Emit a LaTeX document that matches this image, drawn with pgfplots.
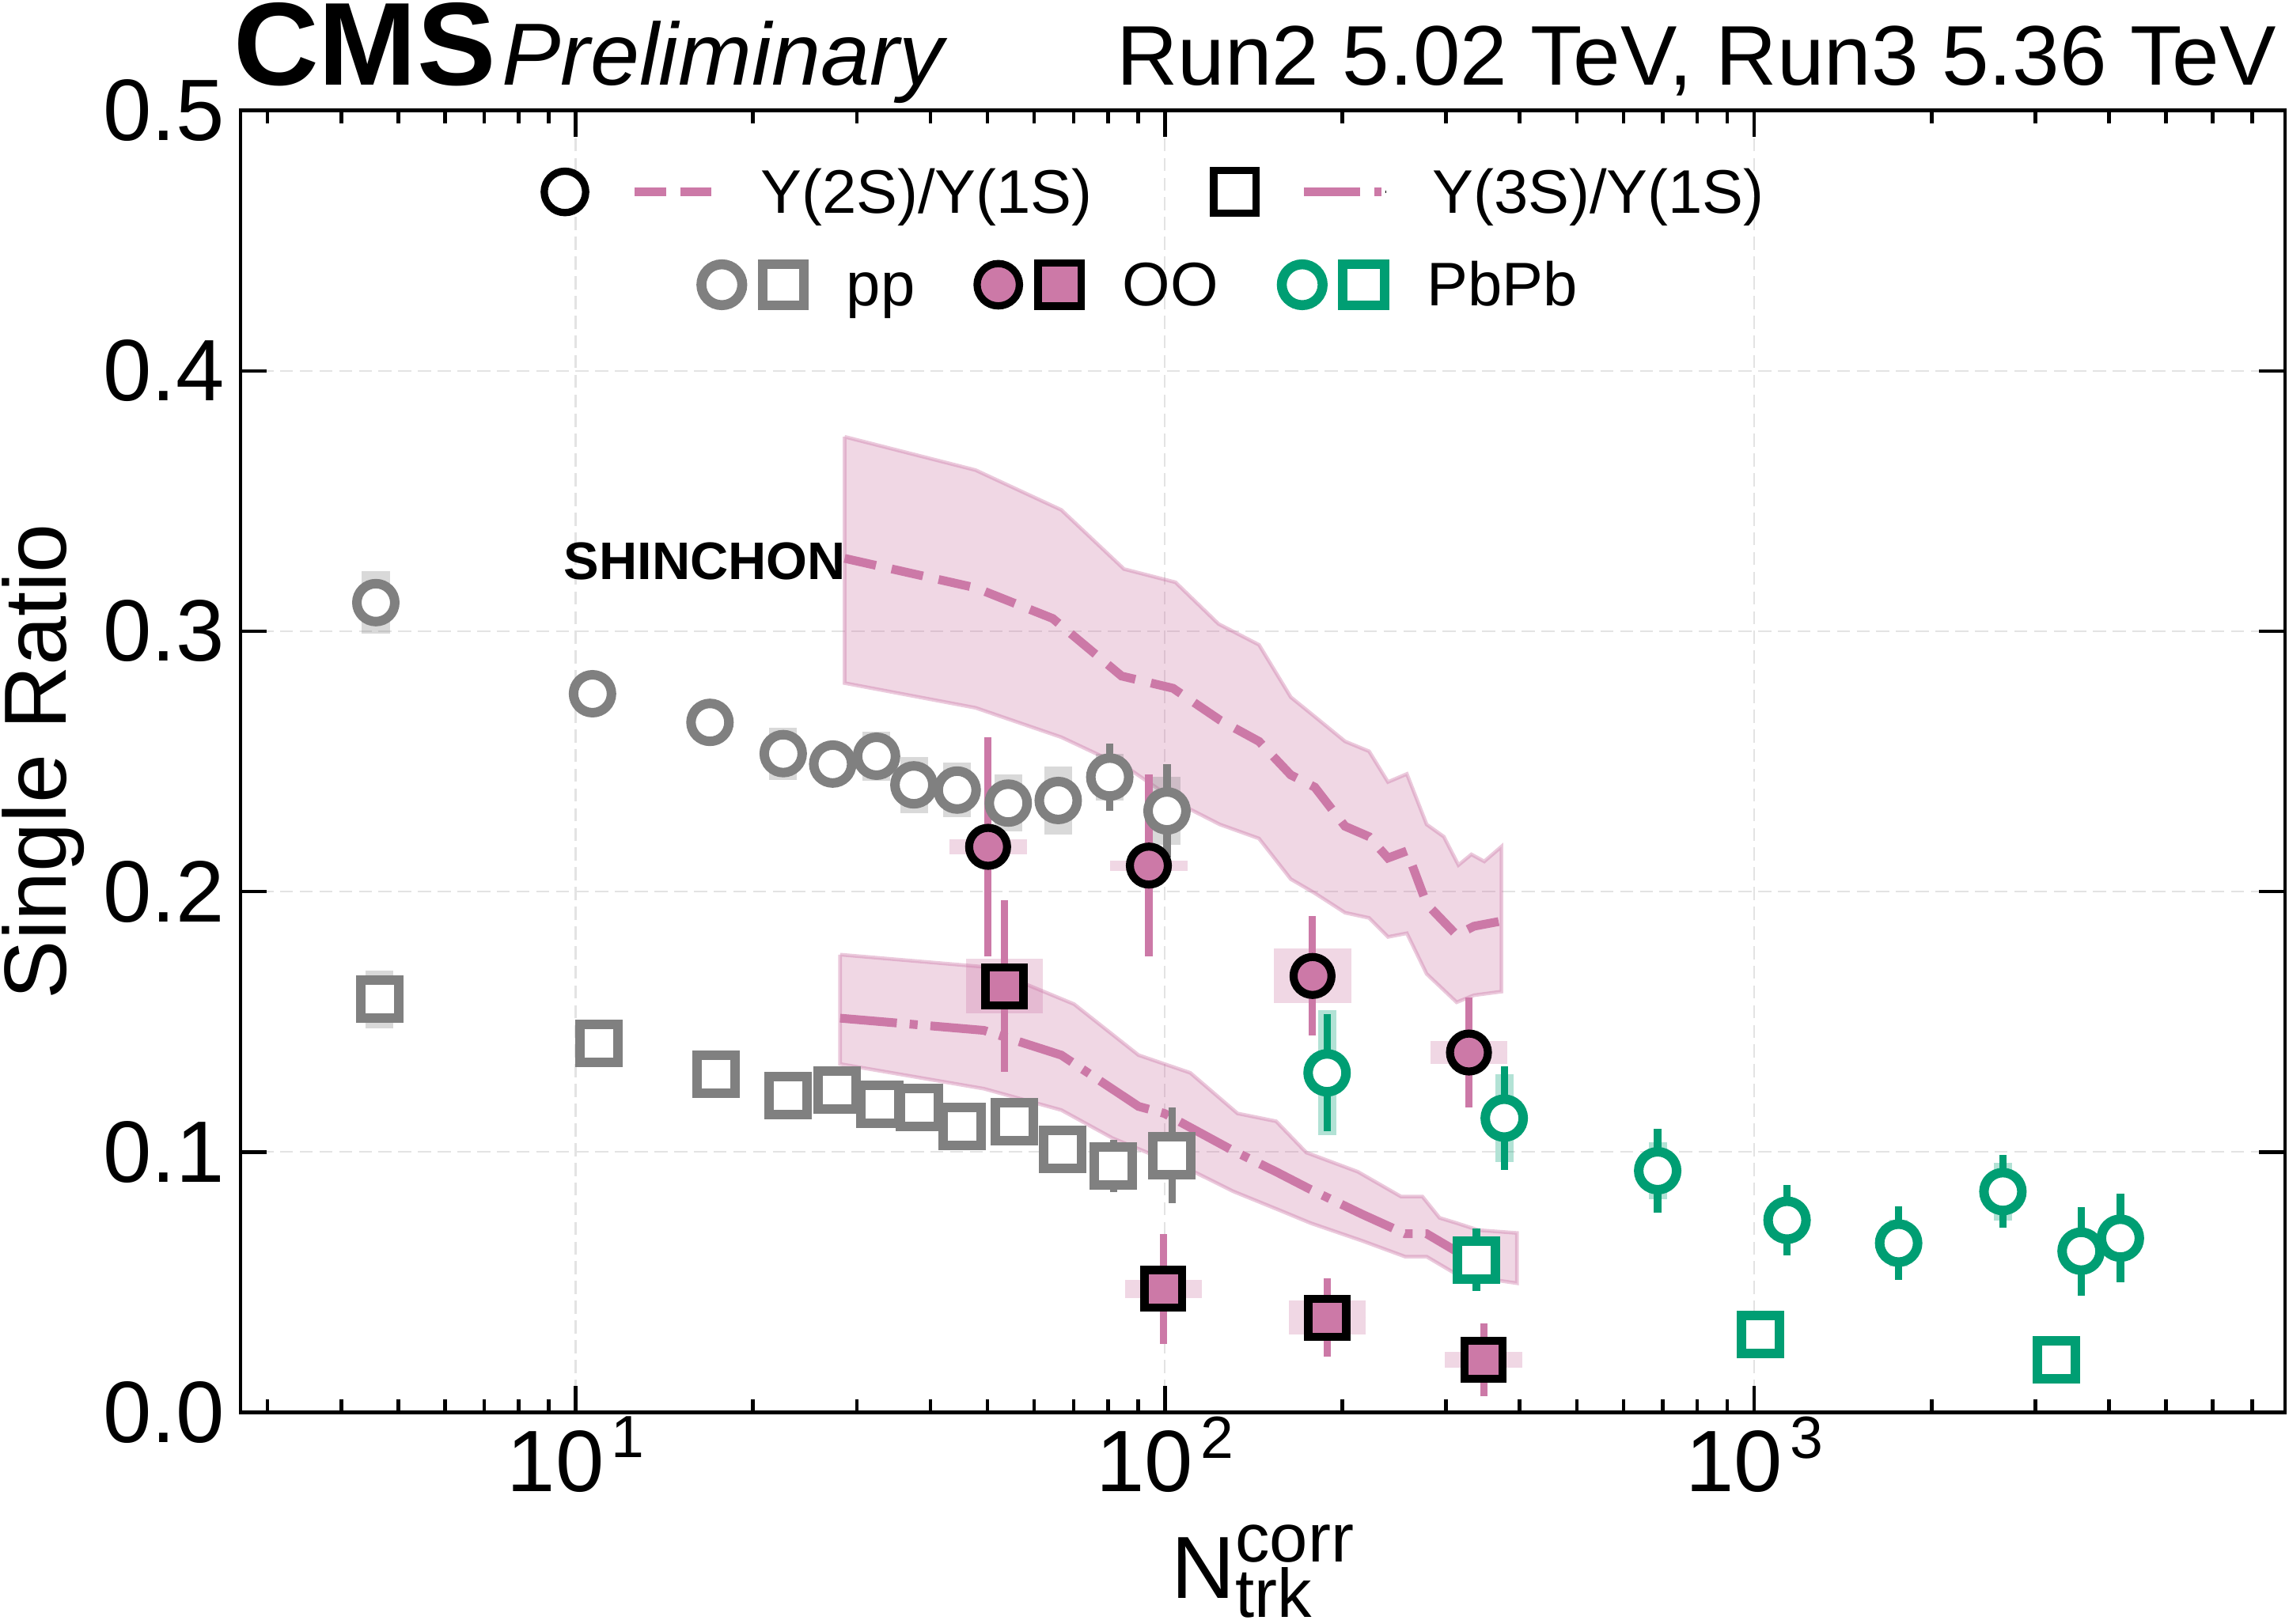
\documentclass[border=0pt]{standalone}
\usepackage{pgfplots}
\pgfplotsset{compat=1.18}
\usepackage{fontspec}
\setmainfont{Liberation Sans}
\definecolor{cmspink}{HTML}{CC79A7}
\definecolor{cmsgreen}{HTML}{009E73}
\definecolor{cmsgray}{HTML}{808080}
\definecolor{gridgray}{HTML}{E3E3E3}

\pgfplotsset{
  overlayaxis/.style={scale only axis, width=140.05mm, height=89.2mm, hide axis,
     xmin=0, xmax=1, ymin=0, ymax=1, legend cell align=left},
  sysbox/.style 2 args={only marks, mark=none, forget plot,
     error bars/.cd, y dir=both, y explicit, error mark=none,
     error bar style={solid, draw=#1, draw opacity=0.3, line width=#2}},
  openmark/.style 2 args={forget plot, only marks, mark=#2, mark size=1.3mm,
     mark options={solid, draw=#1, fill=white, line width=0.65mm},
     error bars/.cd, y dir=both, y explicit, error mark=none,
     error bar style={solid, draw=#1, line width=0.5mm}},
  oomark/.style={forget plot, only marks, mark=#1, mark size=1.3mm,
     mark options={solid, draw=black, fill=cmspink, line width=0.55mm},
     error bars/.cd, y dir=both, y explicit, error mark=none,
     error bar style={solid, draw=cmspink, line width=0.5mm}},
}

\begin{document}
\begin{tikzpicture}
\begin{axis}[
  scale only axis, width=140.05mm, height=89.2mm,
  xmode=log, xmin=2.7, xmax=7960, ymin=0, ymax=0.5,
  xtick={10,100,1000},
  xticklabels={10\kern0.5mm\raisebox{2.3mm}{\fontsize{11.6}{12}\selectfont 1},
               10\kern0.5mm\raisebox{2.3mm}{\fontsize{11.6}{12}\selectfont 2},
               10\kern0.5mm\raisebox{2.3mm}{\fontsize{11.6}{12}\selectfont 3}},
  minor xtick={3,4,5,6,7,8,9,20,30,40,50,60,70,80,90,200,300,400,500,600,700,800,900,2000,3000,4000,5000,6000,7000},
  ytick={0,0.1,0.2,0.3,0.4,0.5},
  yticklabels={0.0,0.1,0.2,0.3,0.4,0.5},
  tick align=inside, tick pos=both,
  major tick length=1.8mm, minor tick length=0.9mm,
  tick style={black, line width=0.25mm},
  axis line style={line width=0.25mm},
  tick label style={font=\fontsize{17}{20}\selectfont},
  xticklabel style={anchor=north, inner sep=0pt, yshift=-0.23mm},
  yticklabel style={anchor=east, inner sep=0pt, xshift=-1.05mm},
  xmajorgrids, ymajorgrids,
  major grid style={gridgray, line width=0.12mm, dash pattern=on 0.9mm off 0.45mm},
  xlabel={N\rlap{\raisebox{-1.3mm}{\fontsize{13.4}{14}\selectfont trk}}\raisebox{2.5mm}{\fontsize{13.4}{14}\selectfont corr}},
  ylabel={Single Ratio},
  label style={font=\fontsize{17.2}{20}\selectfont, inner sep=0pt},
  xlabel style={at={(axis description cs:0.5,-0.1430)}, anchor=base},
  ylabel style={at={(axis description cs:-0.08554,0.5)}, anchor=base},
]

% SHINCHON Y(2S)/Y(1S) band
\addplot[forget plot, fill=cmspink, fill opacity=0.3, draw=cmspink, draw opacity=0.4, line width=0.25mm]
 coordinates {(28.6,0.3747) (47.7,0.3619) (66.7,0.3466) (85.2,0.3239) (104.2,0.3188) (123.3,0.3028)
 (144.4,0.2948) (163.5,0.2747) (179.6,0.2672) (202.1,0.2577) (222.0,0.2539) (239.0,0.2421)
 (257.3,0.2452) (278.0,0.2258) (297.3,0.2211) (314.8,0.2102) (331.1,0.2143) (348.2,0.2116)
 (372.4,0.2173)
 (372.4,0.1616) (334.4,0.1602) (312.6,0.1575) (278.0,0.1684) (257.3,0.1840) (239.0,0.1826)
 (222.0,0.1899) (202.1,0.1919) (179.6,0.1994) (163.5,0.2048) (144.4,0.2204) (123.9,0.2258)
 (106.7,0.2333) (87.2,0.2469) (66.7,0.2593) (47.7,0.2706) (28.6,0.2801) (28.6,0.3747)};
% SHINCHON Y(3S)/Y(1S) band
\addplot[forget plot, fill=cmspink, fill opacity=0.3, draw=cmspink, draw opacity=0.4, line width=0.25mm]
 coordinates {(28.1,0.1758) (49.3,0.1711) (70.1,0.1568) (90.2,0.1372) (110.4,0.1304) (132.8,0.1148)
 (154.4,0.1118) (173.7,0.0998) (212.5,0.0924) (251.4,0.0829) (273.4,0.0829) (292.4,0.0747)
 (312.6,0.0727) (340.1,0.0700) (395.7,0.0689)
 (395.7,0.0496) (312.6,0.0530) (278.0,0.0598) (255.6,0.0598) (216.0,0.0659) (176.6,0.0727)
 (157.0,0.0775) (130.5,0.0849) (110.4,0.0931) (93.3,0.0998) (81.5,0.1053) (66.7,0.1161)
 (49.3,0.1243) (28.1,0.1338) (28.1,0.1758)};
% central lines
\addplot[forget plot, cmspink, line width=0.6mm, dash pattern=on 2.2mm off 1.1mm]
 coordinates {(28.6,0.3280) (47.7,0.3167) (64.5,0.3049) (84.4,0.2828) (103.2,0.2781) (123.9,0.2659)
 (144.4,0.2577) (163.5,0.2448) (179.6,0.2401) (202.1,0.2251) (222.0,0.2211) (239.0,0.2129)
 (257.3,0.2156) (278.0,0.1953) (312.6,0.1833) (334.4,0.1867) (372.4,0.1887)};
\addplot[forget plot, cmspink, line width=0.6mm, dash pattern=on 3.9mm off 0.88mm on 0.55mm off 0.88mm]
 coordinates {(28.1,0.1514) (49.3,0.1467) (66.7,0.1372) (90.2,0.1175) (99.8,0.1148) (130.5,0.1005)
 (154.4,0.0924) (176.6,0.0856) (216.0,0.0761) (255.6,0.0686) (278.0,0.0686) (312.6,0.0618)
 (382.4,0.0585)};

% systematic boxes
\addplot[sysbox={cmsgray}{1.9mm}] coordinates {
 (4.58,0.311) +- (0,0.012) (10.68,0.276) +- (0,0.004) (16.9,0.265) +- (0,0.004)
 (22.5,0.253) +- (0,0.010) (27.3,0.249) +- (0,0.006) (32.4,0.252) +- (0,0.0095)
 (37.5,0.241) +- (0,0.0108) (44.4,0.239) +- (0,0.0105) (54.2,0.234) +- (0,0.011)
 (65.9,0.235) +- (0,0.013) (80.6,0.244) +- (0,0.009) (100.8,0.231) +- (0,0.013)};
\addplot[sysbox={cmsgray}{1.9mm}] coordinates {
 (4.65,0.1586) +- (0,0.011) (10.96,0.1418) +- (0,0.004) (17.3,0.130) +- (0,0.004)
 (22.9,0.1216) +- (0,0.004) (27.8,0.1239) +- (0,0.004) (32.8,0.1183) +- (0,0.004)
 (38.3,0.1171) +- (0,0.004) (45.2,0.1099) +- (0,0.004) (55.5,0.1115) +- (0,0.004)
 (67.0,0.1009) +- (0,0.004) (81.8,0.0947) +- (0,0.004) (102.8,0.0987) +- (0,0.005)};
\addplot[sysbox={cmspink}{5.3mm}] coordinates {
 (50.1,0.2172) +- (0,0.003) (93.9,0.210) +- (0,0.002) (178,0.1676) +- (0,0.0105) (328,0.1382) +- (0,0.0045)};
\addplot[sysbox={cmspink}{5.3mm}] coordinates {
 (53.4,0.1637) +- (0,0.0105) (99.4,0.0474) +- (0,0.0034) (188.6,0.0364) +- (0,0.0065) (347.5,0.0202) +- (0,0.003)};
\addplot[sysbox={cmsgreen}{1.25mm}] coordinates {
 (188.4,0.1304) +- (0,0.024) (376.5,0.113) +- (0,0.017) (685.6,0.0928) +- (0,0.011)
 (1136.7,0.0738) +- (0,0.006) (1758,0.065) +- (0,0.009) (2642,0.0848) +- (0,0.011)
 (3586,0.0619) +- (0,0.006) (4181,0.0669) +- (0,0.006)};

% pp
\addplot[openmark={cmsgray}{*}] coordinates {
 (4.58,0.311) +- (0,0.004) (10.68,0.276) +- (0,0.003) (16.9,0.265) +- (0,0.003)
 (22.5,0.253) +- (0,0.003) (27.3,0.249) +- (0,0.003) (32.4,0.252) +- (0,0.003)
 (37.5,0.241) +- (0,0.004) (44.4,0.239) +- (0,0.005) (54.2,0.234) +- (0,0.006)
 (65.9,0.235) +- (0,0.008) (80.6,0.244) +- (0,0.013) (100.8,0.231) +- (0,0.018)};
\addplot[openmark={cmsgray}{square*}] coordinates {
 (4.65,0.1586) +- (0,0.004) (10.96,0.1418) +- (0,0.003) (17.3,0.130) +- (0,0.003)
 (22.9,0.1216) +- (0,0.003) (27.8,0.1239) +- (0,0.003) (32.8,0.1183) +- (0,0.003)
 (38.3,0.1171) +- (0,0.004) (45.2,0.1099) +- (0,0.004) (55.5,0.1115) +- (0,0.005)
 (67.0,0.1009) +- (0,0.006) (81.8,0.0947) +- (0,0.010) (102.8,0.0987) +- (0,0.0185)};
% OO
\addplot[oomark=*] coordinates {
 (50.1,0.2172) +- (0,0.042) (93.9,0.210) +- (0,0.035) (178,0.1676) +- (0,0.023) (328,0.1382) +- (0,0.021)};
\addplot[oomark=square*] coordinates {
 (53.4,0.1637) +- (0,0.033) (99.4,0.0474) +- (0,0.021) (188.6,0.0364) +- (0,0.015) (347.5,0.0202) +- (0,0.014)};
% PbPb
\addplot[openmark={cmsgreen}{*}] coordinates {
 (188.4,0.1304) +- (0,0.0225) (376.5,0.113) +- (0,0.020) (685.6,0.0928) +- (0,0.016)
 (1136.7,0.0738) +- (0,0.0135) (1758,0.065) +- (0,0.014) (2642,0.0848) +- (0,0.014)
 (3586,0.0619) +- (0,0.017) (4181,0.0669) +- (0,0.017)};
\addplot[openmark={cmsgreen}{square*}] coordinates {
 (337.8,0.0586) +- (0,0.012) (1023,0.030) +- (0,0.003) (3256,0.0202) +- (0,0.003)};

\node[anchor=base east, inner sep=0pt, font=\bfseries\fontsize{10.3}{12}\selectfont] at (axis cs:28.87,0.320) {SHINCHON};
\end{axis}

% legend row 1
\begin{axis}[overlayaxis, legend columns=2,
  legend style={at={(0.14673,0.93744)}, anchor=west, draw=none, fill=none,
    inner sep=0pt, outer sep=0pt, font=\fontsize{12}{14}\selectfont,
    nodes={inner sep=0pt, text height=3.75mm, text depth=0.85mm},
    /tikz/every odd column/.append style={column sep=3.1mm},
    /tikz/every even column/.append style={column sep=8.06mm}}]
\addlegendimage{legend image code/.code={
  \draw[solid, black, line width=0.5mm, fill=white] (0,0) circle (1.42mm);
  \draw[cmspink, line width=0.6mm, dash pattern=on 2.18mm off 0.96mm] (4.76mm,0) -- (10mm,0);}}
\addlegendentry{Υ(2S)/Υ(1S)}
\addlegendimage{legend image code/.code={
  \draw[solid, black, line width=0.5mm, fill=white] (-1.45mm,-1.45mm) rectangle (1.45mm,1.45mm);
  \draw[cmspink, line width=0.6mm, dash pattern=on 3.88mm off 0.97mm on 0.46mm off 3mm] (4.72mm,0) -- (10.03mm,0);
  \path (10.3mm,0) -- (10.35mm,0);}}
\addlegendentry{Υ(3S)/Υ(1S)}
\end{axis}

% legend row 2
\begin{axis}[overlayaxis, legend columns=3,
  legend style={at={(0.22296,0.86614)}, anchor=west, draw=none, fill=none,
    inner sep=0pt, outer sep=0pt, font=\fontsize{12}{14}\selectfont,
    nodes={inner sep=0pt, text height=3.75mm, text depth=0.85mm},
    /tikz/every odd column/.append style={column sep=2.6mm},
    /tikz/every even column/.append style={column sep=4.0mm}}]
\addlegendimage{legend image code/.code={
  \draw[solid, cmsgray, line width=0.68mm, fill=white] (0,0) circle (1.4mm);
  \draw[solid, cmsgray, line width=0.65mm, fill=white] (2.78mm,-1.42mm) rectangle (5.62mm,1.42mm);}}
\addlegendentry{pp}
\addlegendimage{legend image code/.code={
  \draw[solid, black, line width=0.5mm, fill=cmspink] (0,0) circle (1.45mm);
  \draw[solid, black, line width=0.5mm, fill=cmspink] (2.73mm,-1.47mm) rectangle (5.67mm,1.47mm);}}
\addlegendentry{OO}
\addlegendimage{legend image code/.code={
  \draw[solid, cmsgreen, line width=0.68mm, fill=white] (0,0) circle (1.4mm);
  \draw[solid, cmsgreen, line width=0.65mm, fill=white] (2.78mm,-1.42mm) rectangle (5.62mm,1.42mm);}}
\addlegendentry{PbPb}
\end{axis}

% header
\node[anchor=base west, inner sep=0pt, font=\bfseries\fontsize{23}{26}\selectfont] at (-0.55mm,90.92mm) {CMS};
\node[anchor=base west, inner sep=0pt, font=\itshape\fontsize{17.2}{20}\selectfont] at (17.84mm,90.92mm) {Preliminary};
\node[anchor=base east, inner sep=0pt, font=\fontsize{16.5}{19}\selectfont] at (139.52mm,90.92mm) {Run2 5.02 TeV, Run3 5.36 TeV};

\pgfresetboundingbox
\path[use as bounding box] (-16.48mm,-14.45mm) rectangle (140.32mm,96.77mm);
\end{tikzpicture}
\end{document}
